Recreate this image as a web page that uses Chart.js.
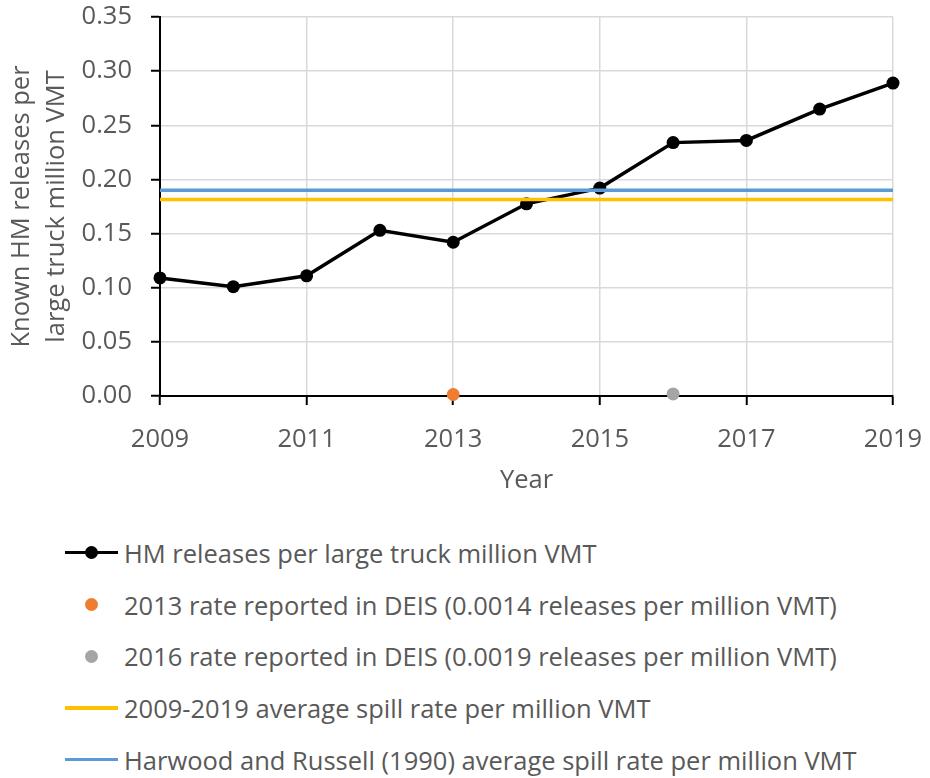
<!DOCTYPE html>
<html>
<head>
<meta charset="utf-8">
<script src="https://cdn.jsdelivr.net/npm/chart.js@4.4.1/dist/chart.umd.min.js"></script>
<style>
  body { margin: 0; background: #fff; font-family: "Open Sans", sans-serif; }
  #wrap { position: relative; width: 930px; height: 778px; overflow: hidden; }
  #chartBox { position: absolute; left: 0; top: 0; width: 930px; height: 500px; }
  #legend { position: absolute; left: 0; top: 527px; }
  .item { display: flex; align-items: center; height: 51.75px; color: #595959; font-size: 25.5px; white-space: nowrap; }
  .swatch { position: relative; width: 53px; height: 16px; margin-left: 65px; margin-right: 6px; flex: none; }
  .swatch .bar { position: absolute; left: 0; right: 0; top: 6px; height: 3.5px; }
  .swatch .dot { position: absolute; left: 20px; top: 1.5px; width: 13px; height: 13px; border-radius: 50%; }
</style>
</head>
<body>
<div id="wrap">
  <div id="chartBox"><canvas id="spillChart"></canvas></div>
  <div id="legend"></div>
</div>
<script>
const years = [2009, 2010, 2011, 2012, 2013, 2014, 2015, 2016, 2017, 2018, 2019];
const hmRates = [0.109, 0.101, 0.111, 0.153, 0.142, 0.1775, 0.192, 0.234, 0.236, 0.265, 0.289];
const deis2013 = [{ x: 2013, y: 0.0014 }];
const deis2016 = [{ x: 2016, y: 0.0019 }];
const avgRate = 0.1815;
const harwoodRate = 0.190;
const yTicks = [0, 0.05, 0.1, 0.15, 0.2, 0.25, 0.3, 0.35];
const xTicks = [2009, 2011, 2013, 2015, 2017, 2019];

const labels = [
  "HM releases per large truck million VMT",
  "2013 rate reported in DEIS (0.0014 releases per million VMT)",
  "2016 rate reported in DEIS (0.0019 releases per million VMT)",
  "2009-2019 average spill rate per million VMT",
  "Harwood and Russell (1990) average spill rate per million VMT",
];

const TEXT = "#595959";
const GRID = "#d9d9d9";
const FONT = "'Open Sans', sans-serif";
const FS = 25.5;

const flat = (v) => [{ x: years[0], y: v }, { x: years[years.length - 1], y: v }];

const datasets = [
  {
    label: labels[0],
    data: years.map((x, i) => ({ x, y: hmRates[i] })),
    borderColor: "#000",
    backgroundColor: "#000",
    borderWidth: 3.5,
    pointRadius: 6.5,
    pointBorderWidth: 0,
    clip: false,
    order: 3,
    kind: "linepoint",
  },
  {
    label: labels[1],
    data: deis2013,
    showLine: false,
    backgroundColor: "#ED7D31",
    borderColor: "#ED7D31",
    pointRadius: 6.5,
    pointBorderWidth: 0,
    clip: false,
    order: 2,
    kind: "point",
  },
  {
    label: labels[2],
    data: deis2016,
    showLine: false,
    backgroundColor: "#A5A5A5",
    borderColor: "#A5A5A5",
    pointRadius: 6.5,
    pointBorderWidth: 0,
    clip: false,
    order: 2,
    kind: "point",
  },
  {
    label: labels[3],
    data: flat(avgRate),
    borderColor: "#FFC000",
    backgroundColor: "#FFC000",
    borderWidth: 3.5,
    pointRadius: 0,
    order: 1,
    kind: "line",
  },
  {
    label: labels[4],
    data: flat(harwoodRate),
    borderColor: "#5B9BD5",
    backgroundColor: "#5B9BD5",
    borderWidth: 3.5,
    pointRadius: 0,
    order: 1,
    kind: "line",
  },
];

new Chart(document.getElementById("spillChart"), {
  type: "line",
  data: { datasets },
  options: {
    responsive: true,
    maintainAspectRatio: false,
    animation: false,
    layout: { padding: { left: 0, top: 17, right: 37, bottom: 0 } },
    plugins: { legend: { display: false }, tooltip: { enabled: false } },
    scales: {
      x: {
        type: "linear",
        min: 2009,
        max: 2019,
        afterBuildTicks: (scale) => { scale.ticks = xTicks.map((v) => ({ value: v })); },
        afterFit: (scale) => {
          scale.height = 104;
          scale.paddingLeft = 0;
          scale.paddingRight = 0;
        },
        ticks: { color: TEXT, font: { family: FONT, size: FS }, padding: 19, callback: (v) => String(v) },
        grid: { color: GRID, lineWidth: 1.5, tickColor: "#000", tickLength: 9, tickWidth: 2 },
        border: { color: "#000", width: 2 },
        title: { display: true, text: "Year", color: TEXT, font: { family: FONT, size: FS }, padding: { top: 0, bottom: 4 } },
      },
      y: {
        min: 0,
        max: 0.35,
        afterBuildTicks: (scale) => { scale.ticks = yTicks.map((v) => ({ value: v })); },
        afterFit: (scale) => {
          scale.width = 160;
          scale.paddingTop = 0;
          scale.paddingBottom = 0;
        },
        ticks: { color: TEXT, font: { family: FONT, size: FS }, padding: 19, callback: (v) => v.toFixed(2) },
        grid: { color: GRID, lineWidth: 1.5, tickColor: "#000", tickLength: 9, tickWidth: 2 },
        border: { color: "#000", width: 2 },
        title: {
          display: true,
          text: ["Known HM releases per", "large truck million VMT"],
          color: TEXT,
          font: { family: FONT, size: FS, lineHeight: 1.37 },
          padding: { top: 4.5, bottom: 0 },
        },
      },
    },
  },
});

// legend rows, one per dataset
document.getElementById("legend").innerHTML = datasets
  .map((ds) => {
    const c = ds.borderColor;
    const bar = ds.kind !== "point" ? `<div class="bar" style="background:${c}"></div>` : "";
    const dot = ds.kind !== "line" ? `<div class="dot" style="background:${c}"></div>` : "";
    return `<div class="item"><div class="swatch">${bar}${dot}</div><span>${ds.label}</span></div>`;
  })
  .join("");
</script>
</body>
</html>
